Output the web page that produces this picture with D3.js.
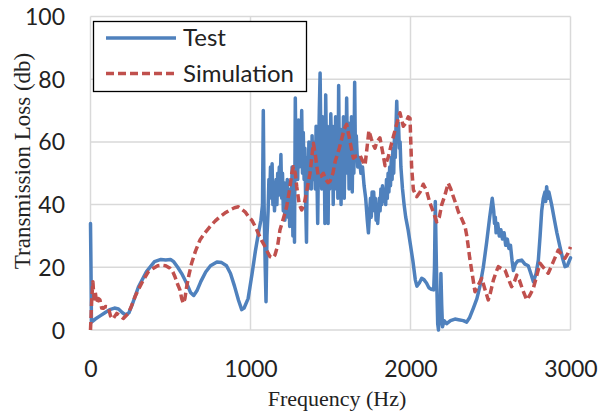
<!DOCTYPE html>
<html>
<head>
<meta charset="utf-8">
<script src="https://cdn.jsdelivr.net/npm/d3@7/dist/d3.min.js"></script>
<style>
  html, body { margin: 0; padding: 0; background: #fff; }
  svg { display: block; }
</style>
</head>
<body>
<svg id="chart" width="606" height="412"></svg>
<script>
// ---- DATA ----
const seriesNames = ["Test", "Simulation"];
const xTicks = [0, 1000, 2000, 3000];
const yTicks = [0, 20, 40, 60, 80, 100];

// Test: [frequency Hz, transmission loss dB]
const testData = [
  [0,34],[3,20],[6,2.5],[30,3.5],[60,4.5],[90,5.5],[120,6.5],[150,7],[175,6.7],[200,5.5],
  [220,4.8],[240,5.5],[260,8],[300,13.8],[350,18.6],[400,21.8],[440,22.5],[470,22.3],[500,22.5],[520,21.8],
  [545,20],[570,18],[600,15],[625,12],[645,11],[665,12.5],[690,15.5],[720,18.5],[750,20.5],[790,21.7],
  [820,21.5],[850,20.5],[875,18],[900,14],[925,9.5],[945,6.5],[960,7],[985,10],[1010,18],[1030,25],
  [1050,31],[1065,35],[1075,40],[1080,70],[1085,40],[1092,20],[1097,9],[1103,30],[1110,38],[1115,48],
  [1120,42],[1125,52],[1130,45],[1135,53],[1140,40],[1145,47],[1150,38],[1155,44],[1160,48],[1165,40],
  [1170,50],[1175,43],[1180,52],[1185,45],[1190,56],[1195,42],[1200,50],[1205,38],[1210,47],[1215,35],
  [1220,45],[1225,38],[1230,48],[1235,36],[1240,43],[1245,33],[1250,45],[1255,38],[1260,52],[1265,30],
  [1270,50],[1275,28],[1280,74],[1285,50],[1290,62],[1295,48],[1300,67],[1305,52],[1310,65],[1315,55],
  [1320,70],[1325,50],[1330,63],[1335,48],[1340,58],[1345,40],[1350,28],[1355,55],[1360,45],[1365,60],
  [1370,50],[1375,58],[1380,45],[1385,62],[1390,48],[1395,55],[1400,60],[1405,45],[1410,65],[1415,50],
  [1420,34],[1425,55],[1430,70],[1435,82],[1440,60],[1445,45],[1450,68],[1455,50],[1460,62],[1465,34],
  [1470,75],[1475,55],[1480,65],[1485,34],[1490,60],[1495,45],[1502,69],[1507,55],[1512,65],[1517,40],
  [1522,60],[1527,48],[1532,68],[1537,45],[1542,62],[1546,42],[1551,78],[1556,50],[1561,64],[1566,40],
  [1571,60],[1576,48],[1581,68],[1586,42],[1591,62],[1596,50],[1601,74],[1606,55],[1611,66],[1616,45],
  [1621,62],[1626,48],[1631,68],[1636,44],[1641,65],[1646,50],[1651,79],[1656,55],[1661,62],[1670,52],
  [1680,55],[1690,50],[1700,52],[1710,46],[1720,42],[1730,35],[1737,31],[1745,38],[1750,42],[1755,36],
  [1760,44],[1765,40],[1770,44],[1775,38],[1780,42],[1785,35],[1790,40],[1795,34],[1800,38],[1805,42],
  [1810,38],[1815,45],[1820,40],[1825,46],[1830,41],[1835,43],[1840,45],[1845,40],[1850,48],[1855,42],
  [1860,50],[1865,44],[1870,52],[1875,46],[1880,55],[1885,48],[1890,58],[1895,50],[1900,62],[1905,55],
  [1910,66],[1914,73],[1920,62],[1925,66],[1930,58],[1935,60],[1940,52],[1950,45],[1960,40],[1970,36],
  [1985,32],[2000,27],[2015,22],[2030,16],[2040,14],[2055,15],[2070,16.5],[2085,16],[2100,15],[2115,13.5],
  [2130,13],[2145,12.8],[2150,20],[2155,41],[2162,20],[2170,2],[2175,0],[2180,10],[2185,2],[2190,18],
  [2195,8],[2200,1],[2210,3],[2226,2],[2250,3],[2278,3.5],[2300,3.3],[2330,3],[2351,2.5],[2370,4],
  [2393,7],[2415,10],[2434,14],[2455,20],[2476,28],[2495,36],[2511,42],[2520,38],[2525,34],[2530,36],
  [2535,31],[2545,34],[2555,30],[2565,32],[2575,29],[2585,31],[2595,27],[2605,29],[2615,26],[2625,27],
  [2635,22],[2643,19],[2655,21],[2670,22],[2695,22.3],[2715,21],[2736,20.5],[2752,18],[2768,15.4],[2785,18],
  [2799,22.3],[2810,30],[2820,38],[2830,42],[2840,44],[2845,41],[2851,45.7],[2858,42],[2865,44],[2882,40],
  [2900,35],[2915,31],[2934,26.6],[2950,23],[2966,20.2],[2980,20.5],[3000,23]
];

// Simulation: [frequency Hz, transmission loss dB]
const simData = [
  [0,0],[8,10],[15,15.4],[22,10],[30,12],[39,8.5],[50,10],[59,9.6],[70,7],[80,6.9],
  [95,7.5],[111,7.4],[125,4.5],[140,3.5],[164,5.3],[185,4.5],[205,3.7],[236,5.3],[255,7.5],[278,10.6],
  [300,13],[330,15.9],[360,18.5],[393,19.7],[420,20.5],[445,20.7],[470,20.5],[497,19.7],[515,18.5],[528,17],
  [545,14.5],[559,12.8],[570,10],[580,8.5],[590,10],[601,13.8],[615,17.5],[632,21.3],[655,25],[684,28.7],
  [715,31],[747,33],[780,34.8],[809,36.1],[840,37.3],[872,38.3],[900,39],[924,39.3],[945,38.5],[966,37.7],
  [990,36],[1007,35.1],[1030,33],[1049,30.8],[1070,28.5],[1091,26.6],[1110,24.5],[1122,23.4],[1140,23],[1153,23.9],
  [1170,27],[1184,31.9],[1205,35.5],[1226,39.3],[1245,45],[1258,50],[1268,52.1],[1280,50],[1289,45.7],[1305,40],
  [1320,38.3],[1335,40],[1350,44],[1372,50],[1383,55],[1393,59.6],[1405,56],[1415,52],[1424,48.9],[1440,49],
  [1455,50],[1470,48],[1485,47],[1497,47.5],[1515,50],[1530,54],[1539,55.3],[1555,58],[1570,61],[1585,64],
  [1601,65.6],[1615,62],[1630,58],[1643,54.8],[1660,55.5],[1684,55.8],[1700,54],[1716,52.6],[1728,58],[1740,63.6],
  [1755,61],[1768,59],[1778,58],[1790,60],[1809,61.3],[1825,57],[1841,52.4],[1860,55],[1882,59.6],[1893,61.7],
  [1910,65],[1934,69.3],[1955,65],[1970,66],[1986,68],[1997,67.5],[2007,52],[2018,44.7],[2039,42.5],[2060,44],
  [2080,46.5],[2100,44.5],[2122,40.4],[2140,38],[2164,34.5],[2180,36],[2195,39.9],[2215,43],[2236,46.8],[2252,45],
  [2268,42.5],[2285,40],[2299,37.7],[2320,35.5],[2341,33],[2352,30],[2361,26.6],[2370,23],[2382,19.1],[2393,15.5],
  [2403,12.2],[2420,14],[2445,16.5],[2465,13],[2486,9.6],[2500,12],[2518,15.9],[2535,18.5],[2549,20.2],[2570,19.5],
  [2591,19.1],[2610,16.5],[2632,13.8],[2650,15.5],[2664,17.5],[2680,16],[2700,13],[2726,9.6],[2745,11],[2768,13.3],
  [2790,17.5],[2809,21.3],[2830,20],[2861,18.1],[2890,21.5],[2924,25.5],[2945,24],[2966,22.9],[2985,24.5],[3000,26.5]
];

// ---- LAYOUT ----
const svg = d3.select("#chart");
const plot = { left: 90.5, right: 570.5, top: 16.5, bottom: 330 };
const blue = "#4F81BD", red = "#C0504D";
const tickFont = "Lato, 'Open Sans', sans-serif";
const titleFont = "'Liberation Serif', 'DejaVu Serif', serif";

const x = d3.scaleLinear().domain([0, 3000]).range([plot.left, plot.right]);
const y = d3.scaleLinear().domain([0, 100]).range([plot.bottom, plot.top]);

// gridlines
const grid = svg.append("g");
grid.selectAll("line.h").data(yTicks).join("line")
  .attr("x1", plot.left).attr("x2", plot.right)
  .attr("y1", d => y(d)).attr("y2", d => y(d))
  .attr("stroke", "#d9d9d9").attr("stroke-width", 1.5);
grid.selectAll("line.v").data(xTicks).join("line")
  .attr("y1", plot.top).attr("y2", plot.bottom)
  .attr("x1", d => x(d)).attr("x2", d => x(d))
  .attr("stroke", "#d9d9d9").attr("stroke-width", 1.5);

// axes (labels only)
const yAxis = d3.axisLeft(y).tickValues(yTicks).tickSize(0).tickPadding(0).tickFormat(d3.format("d"));
const gy = svg.append("g").attr("transform", `translate(65,0)`).call(yAxis);
gy.select(".domain").remove();
gy.selectAll("text").attr("font-family", tickFont).attr("font-size", 23).attr("fill", "#222").attr("dy", "0.35em");

const xAxis = d3.axisBottom(x).tickValues(xTicks).tickSize(0).tickPadding(0).tickFormat(d3.format("d"));
const gx = svg.append("g").attr("transform", `translate(0,369)`).call(xAxis);
gx.select(".domain").remove();
gx.selectAll("text").attr("font-family", tickFont).attr("font-size", 23).attr("fill", "#222").attr("dy", "0.35em");

// axis titles
svg.append("text").attr("x", 337).attr("y", 406).attr("text-anchor", "middle")
  .attr("font-family", titleFont).attr("font-size", 22).attr("fill", "#222").text("Frequency (Hz)");
svg.append("text").attr("transform", "translate(30,161) rotate(-90)").attr("text-anchor", "middle")
  .attr("font-family", titleFont).attr("font-size", 23).attr("fill", "#222").text("Transmission Loss (db)");

// lines
const line = d3.line().x(d => x(d[0])).y(d => y(d[1]));
svg.append("path").datum(testData).attr("d", line)
  .attr("fill", "none").attr("stroke", blue).attr("stroke-width", 3.5)
  .attr("stroke-linejoin", "round").attr("stroke-linecap", "round");
svg.append("path").datum(simData).attr("d", line)
  .attr("fill", "none").attr("stroke", red).attr("stroke-width", 3.5)
  .attr("stroke-dasharray", "8,4").attr("stroke-linejoin", "round");

// legend
const lg = svg.append("g");
lg.append("rect").attr("x", 93.5).attr("y", 21.5).attr("width", 213).attr("height", 70)
  .attr("fill", "#fff").attr("stroke", "#000").attr("stroke-width", 1.3);
const legendItems = [
  { name: seriesNames[0], color: blue, dash: null, cy: 38 },
  { name: seriesNames[1], color: red, dash: "8,4", cy: 73.5 }
];
legendItems.forEach(it => {
  lg.append("line").attr("x1", 106).attr("x2", 176).attr("y1", it.cy).attr("y2", it.cy)
    .attr("stroke", it.color).attr("stroke-width", 3.5).attr("stroke-dasharray", it.dash);
  lg.append("text").attr("x", 183).attr("y", it.cy).attr("dy", "0.35em")
    .attr("font-family", tickFont).attr("font-size", 24).attr("fill", "#222").text(it.name);
});
</script>
</body>
</html>
